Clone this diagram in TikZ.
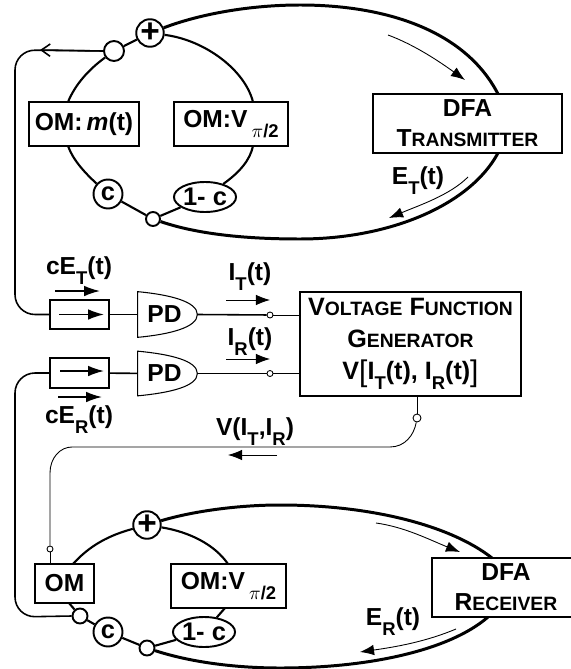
\documentclass[tikz,border=0pt]{standalone}
\usepackage{fontspec}
\setmainfont{Liberation Sans}
\usetikzlibrary{arrows.meta,shapes.geometric}

\newcommand{\lowsub}[1]{\raisebox{-0.4em}{\fontsize{10.5}{10}\selectfont #1}}
\newcommand{\smallcap}[1]{{\fontsize{11}{17}\selectfont #1}}
\newcommand{\tallbr}[1]{\raisebox{-0.1em}{\fontsize{17}{17}\mdseries\selectfont #1}}
\newcommand{\pdshape}[1]{\draw[line width=0.6pt] (#1.north west) .. controls +(32,3) and +(0,-13) .. (#1.east) .. controls +(0,13) and +(32,-3) .. (#1.south west) -- cycle;}

\tikzset{
    lbl/.style={font=\bfseries\fontsize{14}{17}\selectfont, inner sep=0pt, align=center},
    omBox/.style={lbl, draw, line width=1.1pt, fill=white, inner sep=0pt},
    port/.style={circle, draw, line width=1.1pt, fill=white, inner sep=0pt, font=\bfseries\fontsize{14.5}{14}\selectfont},
    tap/.style={circle, draw, line width=0.5pt, fill=white, inner sep=0pt, minimum size=0.12cm},
    fibre/.style={line width=1.7pt},
    wire/.style={line width=1.2pt},
    lead/.style={line width=0.9pt},
    thinLead/.style={line width=0.5pt},
    flow/.style={line width=0.5pt, -{Latex[length=8pt,width=6pt]}},
    flowBig/.style={line width=0.9pt, -{Latex[length=9pt,width=6pt]}}
}

\begin{document}
\begin{tikzpicture}[x=0.02cm, y=-0.02cm]
    \clip (0,0) rectangle (571,669);

    % Transmitter loop
    \node[port, minimum size=0.46cm, font=\bfseries\fontsize{19}{19}\selectfont] (plusT) at (150,33) {+};
    \node[port, minimum size=0.4cm] (splitT) at (114,51) {};
    \node[port, minimum size=0.58cm] (cT) at (108,194) {c};
    \node[port, minimum size=0.28cm] (dotT) at (153,219) {};
    \node[port, ellipse, minimum width=1.24cm, minimum height=0.6cm] (oneT) at (205,197) {1- c};
    \node[omBox, minimum width=2.2cm, minimum height=0.88cm] (omM) at (84,124) {OM:\,\textit{m}(t)};
    \node[omBox, minimum width=2.28cm, minimum height=0.88cm] (omVT) at (231,124) {OM:V\,\lowsub{$\pi$/2}};
    \node[omBox, minimum width=3.78cm, minimum height=1.18cm] (dfaT) at (467.5,123.5) {DFA\\T\smallcap{RANSMITTER}};
    \coordinate (dfaTin) at (498,94);
    \coordinate (dfaTout) at (498,153);

    \draw[fibre] (plusT) .. controls (200,14) and (250,5) .. (300,5) .. controls (385,5) and (465,30) .. (dfaTin);
    \draw[fibre] (dfaTout) .. controls (470,205) and (390,239) .. (300,239) .. controls (250,239) and (200,235) .. (dotT);
    \draw[wire] (plusT) .. controls (205,40) and (245,70) .. (253,102);
    \draw[wire] (253,146) .. controls (250,160) and (240,172) .. (oneT);
    \draw[wire] (dotT) -- (oneT);
    \draw[wire] (dotT) -- (cT);
    \draw[wire] (cT) .. controls (85,173) and (73,160) .. (68,146);
    \draw[wire] (68,102) .. controls (75,85) and (88,70) .. (splitT);
    \draw[wire] (splitT) -- (plusT);

    % Receiver loop
    \node[port, minimum size=0.46cm, font=\bfseries\fontsize{19}{19}\selectfont] (plusR) at (147,525) {+};
    \node[port, minimum size=0.3cm] (splitR) at (80,616) {};
    \node[port, minimum size=0.58cm] (cR) at (108,632) {c};
    \node[port, minimum size=0.3cm] (dotR) at (147,648) {};
    \node[port, ellipse, minimum width=1.24cm, minimum height=0.6cm] (oneR) at (204,632) {1- c};
    \node[omBox, minimum width=1.18cm, minimum height=0.78cm] (omO) at (64.5,583.5) {OM};
    \node[omBox, minimum width=2.3cm, minimum height=0.88cm] (omVR) at (228.5,586) {OM:V\,\lowsub{$\pi$/2}};
    \node[omBox, minimum width=2.96cm, minimum height=1.18cm] (dfaR) at (506,587.5) {DFA\\R\smallcap{ECEIVER}};
    \coordinate (dfaRin) at (492,558);
    \coordinate (dfaRout) at (488,617);

    \draw[fibre] (plusR) .. controls (190,512) and (235,505) .. (280,505) .. controls (370,505) and (450,525) .. (dfaRin);
    \draw[fibre] (dfaRout) .. controls (450,650) and (370,668) .. (280,668) .. controls (235,668) and (190,662) .. (dotR);
    \draw[wire] (plusR) .. controls (190,532) and (215,545) .. (228,564);
    \draw[wire] (225,608) -- (oneR);
    \draw[wire] (dotR) -- (oneR);
    \draw[wire] (dotR) -- (cR);
    \draw[wire] (cR) -- (splitR);
    \draw[wire] (splitR) -- (69,603);
    \draw[wire] (73,564) .. controls (90,545) and (110,535) .. (plusR);

    % Detectors
    \node[omBox, minimum width=1.18cm, minimum height=0.58cm] (isoT) at (79.5,314.5) {};
    \node[omBox, minimum width=1.18cm, minimum height=0.6cm] (isoR) at (79.5,373) {};
    \node[lbl, minimum width=1.18cm, minimum height=0.9cm] (pdT) at (167.5,314.5) {\hspace*{-0.12cm}PD};
    \node[lbl, minimum width=1.18cm, minimum height=0.88cm] (pdR) at (167.5,373.5) {\hspace*{-0.12cm}PD};
    \pdshape{pdT}
    \pdshape{pdR}
    \node[tap] (dotIT) at (270,315) {};
    \node[tap] (dotIR) at (270,373.5) {};
    \node[omBox, minimum width=4.42cm, minimum height=2.08cm, font=\bfseries\fontsize{14.3}{18}\selectfont] (funcGen) at (410.5,344) {V\smallcap{OLTAGE} F\smallcap{UNCTION}\\G\smallcap{ENERATOR}\\V\tallbr{[}I\lowsub{T}(t), I\lowsub{R}(t)\tallbr{]}};

    \draw[lead] (isoT) -- (pdT);
    \draw[lead] (isoR) -- (pdR);
    \draw[lead] (pdT.east) -- (dotIT);
    \draw[lead] (pdR.east) -- (dotIR);
    \draw[thinLead] (dotIT) -- (dotIT -| funcGen.west);
    \draw[thinLead] (dotIR) -- (dotIR -| funcGen.west);

    % Feedback fibres
    \coordinate (railT) at (15,50);
    \coordinate (railR) at (15,617);
    \coordinate (barbT) at (40,50);
    \draw[lead] (isoT.west) [rounded corners=0.4cm] -| (railT) [rounded corners=0.24cm] -- (splitT.west);
    \draw[lead] (isoR.west) [rounded corners=0.4cm] -| (railR) [rounded corners=0.3cm] -- (splitR.west);
    \draw[lead, -{Straight Barb[length=5pt,width=7pt]}] (splitT.west) -- (barbT);

    % Drive line
    \node[tap, minimum width=0.16cm, minimum height=0.12cm] (dotV) at (417,418) {};
    \node[tap] (dotO) at (50,549) {};
    \draw[thinLead] (dotV) -- (dotV |- funcGen.south);
    \draw[thinLead] (dotO) -- (dotO |- omO.north);
    \draw[thinLead] (dotV) .. controls (414,435) and (405,447) .. (390,447) -- (72,447) .. controls (60,447) and (50,458) .. (50,473) -- (dotO);

    % Signal arrows
    \draw[flow] (388,35) .. controls (415,45) and (440,62) .. (465,80);
    \draw[flow] (468,177) .. controls (450,195) and (420,205) .. (389,218);
    \draw[flow] (376,523) .. controls (405,527) and (430,540) .. (460,552);
    \draw[flow] (456,629) .. controls (425,642) and (395,647) .. (360,652);
    \draw[flowBig] (55,291) -- (100,291);
    \draw[flowBig] (58,397) -- (102,397);
    \draw[flowBig] (59,314.5) -- (104,314.5);
    \draw[flowBig] (60,371) -- (104,371);
    \draw[flow] (226,300) -- (270,300);
    \draw[flow] (226,359) -- (270,359);
    \draw[flow] (277,455) -- (228,455);

    % Labels
    \node[lbl] (labET) at (418,181) {E\lowsub{T}(t)};
    \node[lbl] (labER) at (393,622) {E\lowsub{R}(t)};
    \node[lbl] (labCT) at (79,271) {cE\lowsub{T}(t)};
    \node[lbl] (labCR) at (79,420) {cE\lowsub{R}(t)};
    \node[lbl] (labIT) at (250,277) {I\lowsub{T}(t)};
    \node[lbl] (labIR) at (250,342) {I\lowsub{R}(t)};
    \node[lbl] (labV) at (255,432) {V(I\lowsub{T},I\lowsub{R})};
\end{tikzpicture}
\end{document}
